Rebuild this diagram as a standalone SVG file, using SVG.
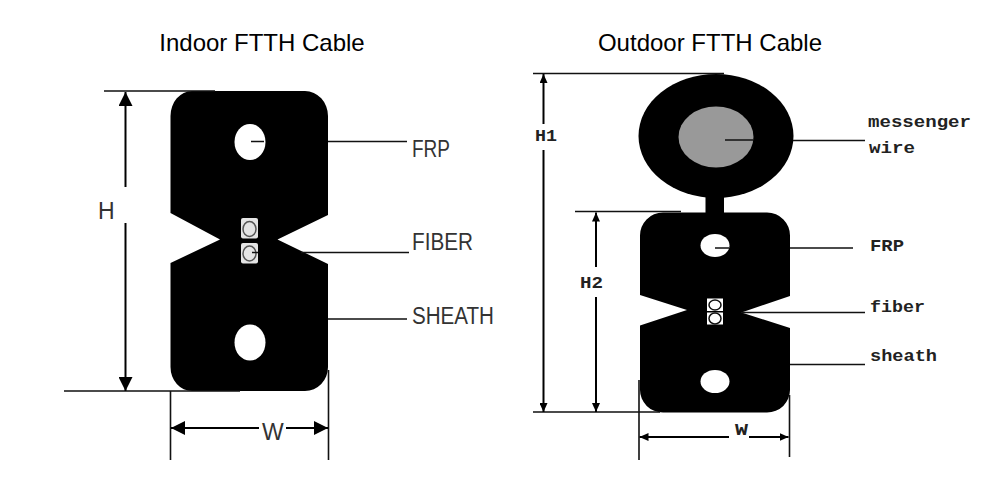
<svg xmlns="http://www.w3.org/2000/svg" width="999" height="477" viewBox="0 0 999 477">
<style>
.b{fill:#000}
.w{fill:#fff}
.l{stroke:#111;stroke-width:1.6;fill:none}
.d{stroke:#000;stroke-width:2;fill:none}
.f{fill:#e4e4e4;stroke:none}
.o{fill:none;stroke:#555;stroke-width:1.5}
.o2{fill:none;stroke:#111;stroke-width:1.5}
.t{font-family:"Liberation Sans",Arial,sans-serif;fill:#000;font-size:24px;text-anchor:middle}
.s{font-family:"Liberation Sans",Arial,sans-serif;fill:#333;font-size:23px}
.m{font-family:"Liberation Mono","Courier New",monospace;font-weight:bold;fill:#222;font-size:17px}
</style>
<defs>
<marker id="a" viewBox="0 0 14 14" markerWidth="14" markerHeight="14" refX="14" refY="7" orient="auto" markerUnits="userSpaceOnUse"><path d="M0 0L14 7L0 14Z" fill="#000"/></marker>
<marker id="c" viewBox="0 0 9 8" markerWidth="9" markerHeight="8" refX="9" refY="4" orient="auto" markerUnits="userSpaceOnUse"><path d="M0 0L9 4L0 8Z" fill="#000"/></marker>
</defs>
<g id="title-indoor"><text class="t" x="262" y="51">Indoor FTTH Cable</text></g>
<g id="title-outdoor"><text class="t" x="710" y="51">Outdoor FTTH Cable</text></g>
<g id="indoor-cable">
<path class="b" d="M192 91H305A23 25 0 0 1 328 116V215L277.500 239.500L328 264V367A23 24 0 0 1 305 391H192A21.500 24 0 0 1 170.500 367V263L220 239.500L170.500 213V116A21.500 25 0 0 1 192 91Z"/>
<ellipse class="w" cx="250" cy="142" rx="15.500" ry="18"/>
<ellipse class="w" cx="250" cy="342.500" rx="15.500" ry="18"/>
<rect class="f" x="241" y="218" width="17" height="20.500" rx="2"/>
<rect class="f" x="241" y="243" width="17" height="20.500" rx="2"/>
<ellipse class="o" cx="249.500" cy="229" rx="6.500" ry="7.500"/>
<ellipse class="o" cx="249.500" cy="253.500" rx="6.500" ry="7.500"/>
</g>
<g id="outdoor-cable">
<ellipse class="b" cx="716" cy="136" rx="77.500" ry="62"/>
<ellipse cx="716" cy="137" rx="37.500" ry="30.500" fill="#999"/>
<rect class="b" x="705.500" y="190" width="18.500" height="30"/>
<path class="b" d="M663 212.500H767A23 23 0 0 1 790 236V296L741.500 312.500L790 328V390A23 22.500 0 0 1 767 412.500H663A23 22.500 0 0 1 640 390V325.500L687 310L640 295V236A23 23 0 0 1 663 212.500Z"/>
<ellipse class="w" cx="715" cy="245.500" rx="14.500" ry="11.500"/>
<ellipse class="w" cx="715" cy="381.500" rx="14.500" ry="11.500"/>
<rect class="w" x="707" y="298.500" width="16" height="12.500"/>
<rect class="w" x="707" y="312.500" width="16" height="12"/>
<ellipse class="o2" cx="715" cy="305" rx="6" ry="5"/>
<ellipse class="o2" cx="715" cy="318.500" rx="6" ry="5.500"/>
</g>
<g id="connectors">
<path class="l" d="M104 91H215M64 391H240M170.500 391V460M328.500 370V460"/>
<path class="d" d="M125.500 187V92" marker-end="url(#a)"/>
<path class="d" d="M125.500 223V391" marker-end="url(#a)"/>
<path class="d" d="M259 428H171" marker-end="url(#a)"/>
<path class="d" d="M286 428H328" marker-end="url(#a)"/>
<path class="l" d="M328 141.500H407M251 141.500H264M301 252.500H409M258 252.500H252M328 319H407"/>
<path class="l" d="M533 73.500H724M575 211.500H681M533 412H660M639 380V460M789.500 395V457"/>
<path class="d" d="M543.500 124V74" marker-end="url(#c)"/>
<path class="d" d="M543.500 150V412" marker-end="url(#c)"/>
<path class="d" d="M596 267V212.500" marker-end="url(#c)"/>
<path class="d" d="M596 297V412" marker-end="url(#c)"/>
<path class="d" d="M729 437H639.500" marker-end="url(#c)"/>
<path class="d" d="M749 437H788.500" marker-end="url(#c)"/>
<path class="l" d="M725 140H753M793 140.500H865M715 248H729M790 248H853M742 312.500H865M790 364.500H865"/>
</g>
<g id="labels">
<text class="s" x="412" y="157" textLength="38" lengthAdjust="spacingAndGlyphs">FRP</text>
<text class="s" x="412" y="250" textLength="61" lengthAdjust="spacingAndGlyphs">FIBER</text>
<text class="s" x="412" y="324" textLength="82" lengthAdjust="spacingAndGlyphs">SHEATH</text>
<text class="s" x="98" y="219" font-size="22">H</text>
<text class="s" x="262" y="440" font-size="22">W</text>
<text class="m" x="868" y="127" textLength="103" lengthAdjust="spacingAndGlyphs">messenger</text>
<text class="m" x="869" y="153" textLength="46" lengthAdjust="spacingAndGlyphs">wire</text>
<text class="m" x="870" y="251" textLength="34" lengthAdjust="spacingAndGlyphs">FRP</text>
<text class="m" x="870" y="312" textLength="55" lengthAdjust="spacingAndGlyphs">fiber</text>
<text class="m" x="870" y="361" textLength="67" lengthAdjust="spacingAndGlyphs">sheath</text>
<text class="m" x="535" y="141" textLength="22" lengthAdjust="spacingAndGlyphs">H1</text>
<text class="m" x="580" y="288" textLength="23" lengthAdjust="spacingAndGlyphs">H2</text>
<text class="m" x="735" y="435" textLength="13" lengthAdjust="spacingAndGlyphs">W</text>
</g>
</svg>
